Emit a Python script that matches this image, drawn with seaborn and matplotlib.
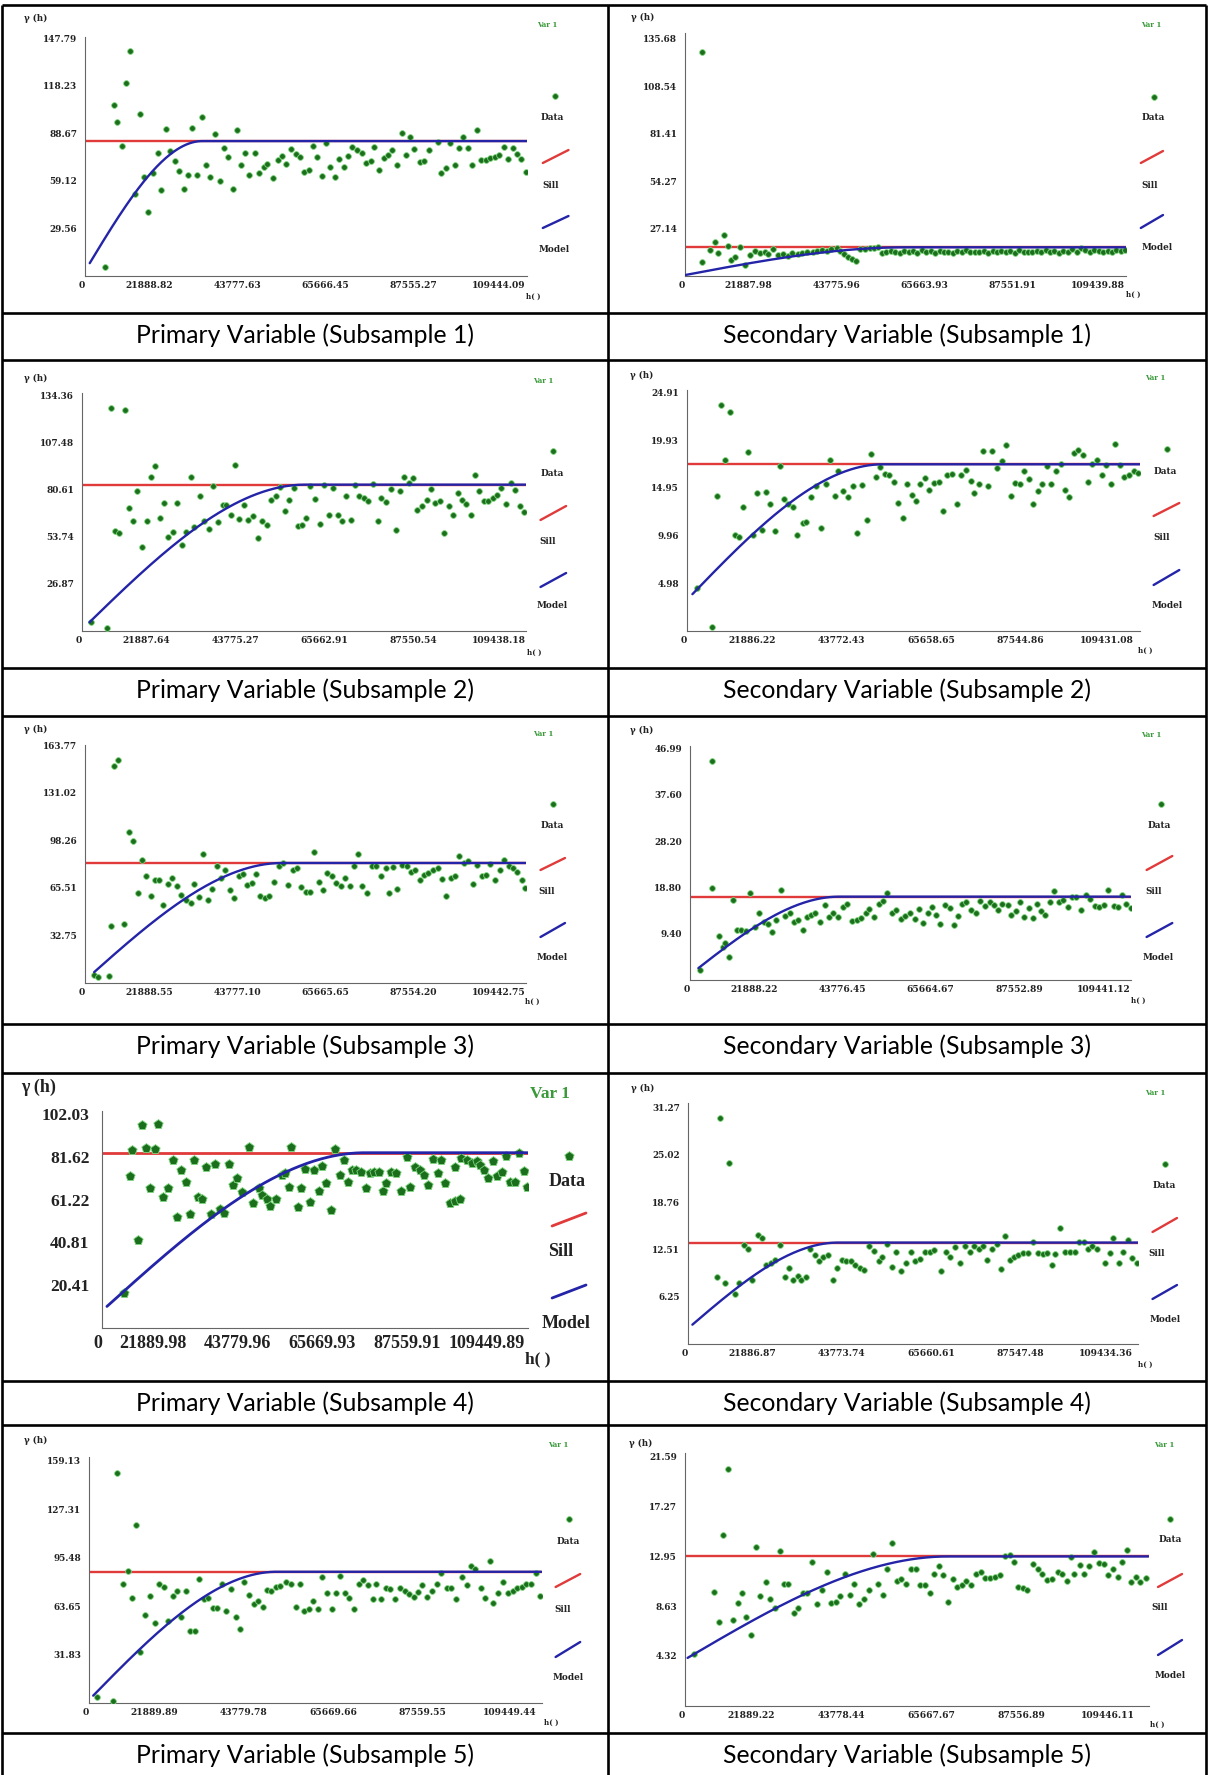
import numpy as np
import pandas as pd
import matplotlib
matplotlib.use("Agg")
import matplotlib.pyplot as plt
import seaborn as sns

sns.set_style("white")
plt.rcParams['font.family'] = ['Liberation Serif', 'DejaVu Serif']

W, H = 1208, 1775

# ---- data (lags in thousands) ----
prim1_lag = [5.0, 7.2, 8.1, 9.2, 10.3, 11.3, 12.4, 13.6, 14.7, 15.8,
             17.0, 18.1, 19.0, 20.2, 21.2, 22.4, 23.5, 24.7, 25.6, 26.7,
             27.9, 29.0, 30.2, 31.2, 32.4, 33.6, 34.5, 35.5, 36.9, 37.7,
             38.9, 39.8, 40.9, 42.3, 43.2, 44.5, 45.4, 46.8, 47.9, 48.9,
             50.1, 51.2, 52.4, 53.5, 54.6, 55.6, 56.7, 57.8, 58.9, 60.0,
             61.0, 62.1, 63.2, 64.3, 65.5, 66.5, 67.7, 68.8, 70.0, 71.1,
             72.0, 73.1, 74.3, 75.3, 76.4, 77.5, 78.8, 79.8, 80.9, 81.9,
             83.2, 84.2, 85.6, 87.7, 88.5, 89.8, 90.7, 92.0, 93.1, 94.1,
             95.3, 96.3, 97.4, 98.6, 99.8, 100.8, 101.9, 103.0, 104.1, 105.1,
             106.4, 107.5, 108.5, 109.8]
prim1_gam = [5.4, 106.3, 96.0, 81.0, 119.8, 139.9, 51.0, 100.7, 61.8, 40.0,
             64.3, 76.3, 53.5, 91.2, 77.9, 71.7, 65.5, 54.1, 62.8, 91.8,
             62.8, 98.7, 69.0, 61.4, 88.1, 59.3, 79.4, 74.2, 54.1, 90.8,
             69.0, 76.3, 62.8, 76.3, 64.3, 67.6, 69.7, 60.8, 72.1, 74.8,
             69.7, 79.0, 75.9, 74.2, 64.9, 65.9, 80.8, 73.8, 62.2, 82.5,
             68.0, 61.8, 72.6, 68.0, 74.6, 80.4, 78.4, 76.3, 70.1, 71.7,
             80.4, 65.9, 73.2, 75.3, 78.4, 69.0, 88.7, 75.3, 86.7, 78.8,
             71.1, 71.7, 78.4, 83.5, 63.9, 67.0, 82.5, 69.0, 79.4, 86.7,
             79.4, 69.0, 90.8, 72.1, 72.1, 73.2, 73.8, 75.3, 80.4, 72.6,
             79.4, 75.9, 72.6, 64.5]

sec1_lag = [4.4, 4.4, 6.3, 7.5, 8.4, 9.7, 10.7, 11.6, 12.6, 13.8,
            15.0, 16.2, 17.4, 18.7, 19.9, 20.8, 22.0, 23.2, 24.5, 25.7,
            26.8, 28.1, 29.2, 30.5, 31.8, 32.9, 34.1, 35.3, 36.5, 37.8,
            38.7, 39.7, 40.7, 41.6, 42.6, 43.6, 44.8, 46.0, 47.2, 48.1,
            49.1, 50.1, 51.3,
            52.4, 53.5, 54.6, 55.7, 56.8, 57.9, 59.0, 60.1, 61.2, 62.3,
            63.4, 64.5, 65.6, 66.7, 67.8, 68.9, 70.0, 71.1, 72.2, 73.3,
            74.4, 75.5, 76.6, 77.7, 78.8, 79.9, 81.0, 82.1, 83.2, 84.3,
            85.4, 86.5, 87.6, 88.7, 89.8, 90.9, 92.0, 93.1, 94.2, 95.3,
            96.4, 97.5, 98.6, 99.7, 100.8, 101.9, 103.0, 104.1, 105.2, 106.3,
            107.4, 108.5, 109.6]
sec1_gam = [128.2, 7.8, 14.9, 19.6, 13.0, 23.4, 17.1, 9.1, 11.0, 16.8,
            6.3, 12.0, 14.5, 13.0, 13.9, 12.6, 15.2, 12.0, 12.6, 11.4,
            13.0, 12.4, 13.0, 13.9, 13.9, 14.5, 14.9, 14.5, 15.2, 15.8,
            14.5, 12.6, 10.7, 9.5, 8.8, 15.2, 15.2, 15.8, 15.8, 16.4,
            13.0, 13.9, 14.5,
            14.0, 13.3, 14.4, 13.6, 14.2, 13.0, 14.6, 13.8, 14.1, 13.4,
            14.5, 13.7, 14.0, 13.2, 14.3, 13.9, 14.6, 13.5, 14.0, 13.8,
            14.4, 13.3, 14.1, 13.9, 14.5, 13.6, 14.2, 13.4, 14.7, 13.8,
            14.0, 13.5, 14.3, 13.7, 14.6, 13.9, 14.1, 13.3, 14.4, 13.8,
            15.2, 14.0, 16.0, 14.6, 13.9, 15.1, 14.2, 13.8, 14.5, 14.0,
            15.0, 14.3, 14.8]

prim2_lag = [2.4, 6.2, 7.2, 8.2, 9.1, 10.6, 11.7, 12.7, 13.6, 14.9,
             16.0, 17.1, 18.2, 19.4, 20.4, 21.4, 22.5, 23.5, 24.7, 25.7,
             26.9, 27.8, 29.1, 30.2, 31.4, 32.4, 33.6, 34.8, 35.7, 36.8,
             37.8, 38.9, 40.0, 41.0, 42.2, 43.4, 44.4, 45.7, 46.8, 48.0,
             49.0, 50.1, 51.1, 52.3, 53.4, 54.3, 55.4, 56.4, 57.6, 58.7,
             59.7, 61.0, 62.0, 63.1, 64.1, 65.1, 66.4, 67.4, 68.4, 69.6,
             70.7, 71.8, 73.0, 73.9, 75.1, 76.2, 77.4, 78.4, 79.5, 80.6,
             81.8, 82.8, 84.0, 85.1, 86.1, 87.2, 88.3, 89.4, 90.5, 91.6,
             92.7, 93.8, 94.8, 96.0, 97.0, 98.1, 99.3, 100.3, 101.4, 102.3,
             103.5, 104.6, 105.8, 106.8, 108.0, 109.0]
prim2_gam = [4.8, 1.5, 127.3, 56.8, 55.8, 126.0, 70.1, 62.9, 79.7, 47.8,
             62.9, 87.9, 94.0, 64.4, 73.0, 53.6, 56.4, 73.0, 49.2, 56.4,
             87.9, 59.3, 76.8, 62.9, 58.1, 82.5, 61.9, 72.0, 72.0, 66.3,
             94.5, 63.9, 72.0, 63.5, 65.4, 53.0, 62.9, 60.6, 74.9, 76.8,
             82.0, 68.2, 74.9, 81.6, 60.0, 60.6, 64.4, 82.5, 75.5, 61.0,
             83.5, 66.3, 81.6, 66.3, 62.9, 76.8, 63.5, 83.5, 76.8, 75.9,
             74.3, 83.9, 62.9, 75.9, 73.6, 81.2, 57.8, 79.7, 87.9, 84.4,
             87.3, 69.2, 71.1, 74.9, 81.2, 73.0, 74.0, 55.8, 71.1, 66.3,
             78.7, 74.9, 72.4, 66.3, 88.8, 79.7, 74.0, 74.3, 75.9, 77.8,
             81.6, 72.4, 84.4, 80.6, 71.1, 67.9]

sec2_lag = [2.6, 6.2, 7.3, 8.4, 9.3, 10.7, 11.9, 12.9, 13.8, 15.1,
            16.2, 17.3, 18.4, 19.3, 20.5, 21.7, 22.8, 23.8, 24.9, 26.1,
            27.1, 28.4, 29.3, 30.5, 31.6, 32.8, 34.0, 35.0, 36.2, 37.1,
            38.3, 39.5, 40.6, 41.7, 42.8, 44.0, 45.0, 46.2, 47.3, 48.6,
            49.5, 50.6, 51.7, 52.8, 53.9, 55.0, 56.2, 57.1, 58.3, 59.4,
            60.6, 61.7, 62.6, 63.8, 65.0, 66.1, 67.1, 68.4, 69.5, 70.4,
            71.6, 72.6, 73.8, 74.8, 76.0, 77.1, 78.2, 79.4, 80.4, 81.5,
            82.5, 83.8, 84.7, 85.9, 87.0, 88.1, 89.2, 90.3, 91.6, 92.5,
            93.6, 94.7, 95.8, 96.9, 98.1, 99.2, 100.4, 101.6, 102.6, 103.8,
            104.7, 106.0, 107.1, 108.2, 109.5, 110.4]
sec2_gam = [4.5, 0.35, 14.1, 23.6, 17.9, 22.9, 10.0, 9.8, 12.9, 18.7,
            10.0, 14.4, 10.5, 14.5, 13.3, 10.4, 17.2, 13.8, 13.2, 12.9,
            10.0, 11.3, 11.4, 14.0, 15.1, 10.7, 15.3, 17.9, 14.1, 16.7,
            14.6, 14.0, 15.1, 10.2, 15.2, 11.6, 18.5, 16.1, 17.1, 16.4,
            16.3, 15.5, 13.4, 11.8, 15.3, 14.2, 13.6, 15.3, 16.0, 14.7,
            15.4, 15.5, 12.5, 16.3, 16.4, 13.3, 16.3, 16.8, 15.7, 14.4,
            15.3, 18.8, 15.1, 18.8, 17.0, 17.7, 19.4, 14.1, 15.4, 15.3,
            16.7, 15.9, 13.2, 14.6, 15.3, 17.2, 15.3, 16.7, 17.4, 14.7,
            14.0, 18.6, 18.9, 18.4, 15.6, 17.4, 17.9, 16.3, 17.3, 15.3,
            19.5, 17.3, 16.1, 16.3, 16.7, 16.5]

prim3_lag = [2.3, 3.3, 6.0, 6.4, 7.3, 8.3, 9.8, 11.0, 12.0, 13.1,
             14.2, 15.3, 16.3, 17.3, 18.4, 19.5, 20.7, 21.6, 22.9, 23.8,
             25.1, 26.3, 27.2, 28.4, 29.3, 30.5, 31.6, 32.7, 33.7, 34.8,
             36.1, 37.1, 38.2, 39.2, 40.3, 41.4, 42.4, 43.6, 44.8, 45.7,
             46.9, 48.1, 49.2, 50.4, 51.6, 52.7, 53.8, 54.9, 55.9, 57.0,
             58.1, 59.2, 60.2, 61.4, 62.5, 63.5, 64.7, 65.8, 66.8, 67.8,
             68.9, 70.1, 71.2, 72.4, 73.6, 74.7, 75.5, 76.6, 77.6, 78.7,
             80.0, 81.0, 82.0, 83.2, 84.3, 85.3, 86.5, 87.6, 88.7, 89.7,
             90.9, 91.9, 93.0, 94.2, 95.2, 96.3, 97.5, 98.7, 99.6, 100.7,
             101.9, 103.0, 104.1, 105.3, 106.3, 107.3, 108.5, 109.4]
prim3_gam = [6.0, 4.4, 4.8, 39.2, 149.5, 153.7, 41.0, 103.7, 97.6, 62.1,
             85.0, 74.0, 59.8, 70.8, 70.8, 54.0, 68.5, 72.4, 67.1, 60.9,
             57.5, 55.2, 68.5, 59.3, 89.1, 57.5, 64.8, 80.8, 72.4, 78.1,
             64.3, 58.6, 73.5, 75.3, 67.8, 68.9, 75.3, 60.2, 58.6, 60.2,
             69.4, 80.8, 82.7, 67.8, 78.1, 79.2, 66.2, 62.5, 62.5, 90.0,
             69.4, 64.3, 75.8, 73.5, 68.9, 66.6, 72.4, 66.6, 80.4, 89.1,
             66.6, 62.1, 80.8, 80.8, 74.0, 79.2, 62.1, 79.9, 64.8, 81.5,
             80.4, 76.3, 78.1, 70.8, 74.7, 75.8, 78.1, 79.2, 71.7, 59.8,
             72.4, 73.5, 87.2, 82.7, 83.8, 68.5, 81.5, 74.0, 74.7, 82.2,
             71.2, 78.1, 85.0, 80.4, 79.2, 76.3, 71.2, 65.5]

sec3_lag = [2.6, 5.5, 5.5, 7.1, 8.1, 8.7, 9.6, 10.6, 11.8, 12.7,
            13.9, 14.9, 16.1, 17.2, 18.4, 19.3, 20.4, 21.4, 22.6, 23.6,
            24.8, 25.8, 26.9, 28.0, 29.1, 30.1, 31.0, 32.3, 33.5, 34.4,
            35.6, 36.8, 38.0, 38.9, 40.2, 41.4, 42.4, 43.6, 44.5, 45.7,
            46.8, 47.9, 48.9, 50.1, 51.1, 52.3, 53.4, 54.7, 55.8, 56.9,
            57.8, 59.0, 60.0, 61.1, 62.1, 63.3, 64.6, 65.6, 66.5, 67.5,
            68.6, 69.8, 71.0, 71.9, 73.2, 74.4, 75.4, 76.5, 77.5, 78.8,
            79.7, 80.9, 81.9, 82.9, 84.1, 85.0, 86.2, 87.1, 88.2, 89.2,
            90.3, 91.5, 92.5, 93.7, 94.7, 95.8, 97.1, 98.2, 99.3, 100.5,
            101.6, 102.8, 103.8, 105.1, 106.2, 107.2, 108.2, 109.3]
sec3_gam = [2.0, 44.5, 18.6, 8.9, 6.7, 7.4, 4.6, 16.3, 10.2, 10.2,
            9.9, 17.7, 10.8, 13.5, 11.8, 11.3, 9.7, 12.1, 18.3, 12.9,
            13.6, 11.8, 12.1, 10.1, 12.7, 13.1, 13.6, 11.8, 15.2, 12.7,
            13.6, 12.8, 14.8, 15.5, 12.0, 12.1, 12.5, 13.5, 14.3, 12.8,
            15.5, 16.1, 17.6, 13.5, 14.2, 12.3, 12.9, 13.5, 12.3, 14.3,
            11.6, 13.5, 14.8, 13.1, 11.3, 15.2, 14.5, 11.1, 12.9, 15.5,
            15.9, 14.2, 13.6, 16.1, 15.0, 15.9, 15.2, 14.2, 15.4, 15.2,
            13.1, 14.0, 15.9, 12.8, 14.5, 12.5, 15.5, 14.0, 13.1, 15.9,
            18.1, 15.9, 16.2, 14.8, 16.8, 16.9, 14.2, 17.2, 16.5, 15.0,
            14.8, 15.2, 18.3, 15.0, 14.8, 17.2, 15.5, 14.5]

prim4_lag = [5.8, 7.3, 7.8, 9.4, 10.4, 11.4, 12.4, 13.7, 14.4, 15.9,
             17.1, 18.4, 19.4, 20.4, 21.7, 22.8, 23.9, 24.9, 25.9, 27.0,
             28.3, 29.3, 30.6, 31.6, 32.8, 33.8, 35.0, 36.2, 38.0, 39.2,
             40.5, 41.5, 42.6, 43.6, 44.9, 46.6, 47.4, 48.3, 49.0, 50.6,
             51.4, 52.6, 53.8, 54.9, 56.1, 57.0, 57.9, 59.2, 60.2, 61.7,
             62.7, 63.7, 64.7, 65.7, 67.0, 68.2, 69.4, 70.4, 71.7, 72.8,
             73.5, 74.7, 76.0, 77.3, 78.8, 79.8, 81.1, 82.3, 83.3, 84.3,
             85.5, 86.8, 87.8, 88.8, 90.1, 91.3, 91.3, 92.5, 92.9, 94.4,
             95.6, 96.9, 97.9, 98.9, 99.9, 101.2, 102.2, 103.4, 104.4, 105.6,
             106.9, 107.9, 109.2, 109.9]
prim4_gam = [16.7, 72.5, 85.0, 41.9, 96.9, 85.8, 66.6, 85.3, 97.4, 62.3,
             66.6, 80.2, 53.1, 75.4, 69.8, 54.4, 80.2, 62.6, 61.8, 76.7,
             54.4, 78.3, 56.6, 55.0, 78.1, 68.2, 71.4, 65.0, 86.2, 59.8,
             66.6, 63.4, 61.8, 58.2, 61.8, 73.0, 73.8, 67.4, 86.2, 57.9,
             66.6, 75.7, 60.3, 75.4, 65.5, 77.3, 69.0, 56.3, 85.3, 73.0,
             80.2, 69.8, 75.4, 75.4, 74.6, 66.6, 73.8, 74.6, 74.6, 65.5,
             69.0, 74.6, 74.1, 65.5, 81.5, 67.1, 77.0, 75.4, 73.0, 68.2,
             80.5, 73.8, 80.2, 69.3, 59.8, 60.7, 77.0, 61.4, 81.0, 80.2,
             78.9, 79.9, 77.8, 75.4, 71.4, 79.9, 72.5, 74.6, 82.1, 69.8,
             69.8, 83.7, 75.1, 67.4]

sec4_lag = [7.3, 7.9, 9.2, 10.3, 11.6, 12.7, 13.9, 14.9, 15.9, 17.2,
            18.3, 19.4, 20.6, 21.6, 22.8, 24.0, 25.0, 25.9, 27.2, 28.0,
            29.0, 30.2, 31.4, 32.4, 33.3, 34.4, 35.7, 36.8, 37.9, 39.0,
            40.2, 41.2, 42.4, 43.3, 44.7, 45.9, 47.0, 47.9, 49.0, 50.3,
            51.3, 52.4, 53.6, 54.8, 56.0, 57.2, 58.3, 59.5, 60.6, 62.4,
            63.4, 64.6, 65.8, 66.9, 68.2, 69.3, 70.4, 71.5, 72.7, 73.7,
            74.9, 76.1, 77.1, 78.0, 79.2, 80.1, 81.3, 82.5, 83.7, 84.9,
            86.0, 87.3, 88.2, 89.5, 90.4, 91.6, 92.7, 94.0, 95.2, 96.2,
            97.3, 98.5, 99.4, 100.7, 102.6, 103.7, 104.5, 105.9, 106.9, 108.1,
            109.3, 110.5]
sec4_gam = [8.8, 29.8, 8.0, 23.9, 6.6, 8.0, 13.1, 12.6, 8.4, 14.4,
            14.0, 10.4, 10.7, 11.1, 13.1, 8.9, 10.1, 8.4, 9.0, 8.5,
            8.8, 12.6, 11.8, 10.9, 11.5, 11.8, 8.5, 10.1, 11.1, 11.0,
            10.9, 10.4, 10.1, 9.8, 12.9, 12.3, 11.0, 11.5, 13.2, 10.2,
            12.2, 9.6, 10.7, 12.1, 11.0, 11.2, 12.2, 12.2, 12.4, 9.6,
            12.2, 11.5, 12.8, 10.7, 12.9, 12.2, 12.9, 12.5, 12.9, 11.1,
            12.6, 13.2, 9.9, 14.3, 11.1, 11.5, 11.8, 12.0, 12.0, 13.5,
            12.0, 11.9, 12.0, 10.4, 11.9, 15.3, 12.1, 12.1, 12.1, 13.5,
            13.5, 12.6, 12.9, 12.6, 10.7, 12.0, 14.0, 10.7, 12.2, 13.7,
            11.3, 10.7]

prim5_lag = [2.1, 5.9, 7.0, 8.3, 9.5, 10.5, 11.6, 12.6, 13.7, 14.9,
             16.1, 17.3, 18.3, 19.4, 20.7, 21.6, 22.6, 23.7, 24.9, 25.9,
             27.1, 28.3, 29.2, 30.4, 31.4, 32.6, 33.7, 34.9, 36.1, 37.1,
             38.1, 39.2, 40.4, 41.4, 42.6, 43.7, 44.6, 45.9, 46.8, 48.2,
             49.5, 50.6, 51.6, 52.7, 54.0, 54.9, 56.2, 57.1, 58.3, 59.4,
             60.4, 61.6, 62.7, 63.7, 64.9, 66.1, 67.1, 68.3, 69.5, 70.4,
             71.6, 72.7, 73.8, 74.9, 76.1, 77.3, 78.3, 79.5, 80.6, 81.6,
             82.7, 84.0, 85.1, 86.3, 87.6, 88.7, 89.9, 91.4, 92.5, 93.5,
             94.6, 95.9, 97.0, 98.1, 99.0, 100.2, 101.3, 102.5, 103.7, 104.7,
             105.9, 107.0, 108.2, 109.5, 110.4]
prim5_gam = [4.3, 1.6, 150.8, 78.6, 86.5, 69.4, 117.1, 33.4, 58.1, 70.5,
             53.0, 78.6, 76.0, 54.1, 70.5, 73.4, 56.3, 73.4, 47.6, 47.6,
             81.5, 68.3, 69.0, 62.4, 62.4, 78.6, 60.3, 74.9, 56.8, 48.7,
             79.9, 71.1, 65.0, 67.2, 63.3, 74.2, 73.8, 76.4, 77.1, 79.9,
             78.6, 63.3, 78.2, 60.3, 61.8, 67.2, 61.8, 82.6, 72.1, 61.8,
             72.1, 83.7, 72.1, 69.4, 61.8, 78.2, 80.8, 77.8, 68.3, 78.2,
             68.3, 75.6, 74.9, 68.3, 75.6, 73.4, 71.6, 69.9, 72.7, 77.8,
             69.9, 73.8, 78.6, 85.2, 75.6, 75.6, 68.3, 82.6, 77.8, 90.2,
             88.0, 75.6, 69.4, 93.1, 65.5, 72.1, 79.3, 72.1, 73.8, 75.6,
             76.4, 78.2, 78.6, 85.8, 70.5]

sec5_lag = [2.2, 7.1, 8.3, 9.3, 10.5, 11.7, 12.9, 14.0, 15.0, 16.2,
            17.4, 18.4, 19.7, 20.7, 22.0, 23.1, 24.1, 25.2, 26.5, 27.6,
            28.8, 29.8, 30.9, 32.1, 33.3, 34.6, 35.5, 36.7, 37.8, 39.0,
            40.2, 41.2, 42.4, 43.5, 44.7, 45.8, 47.0, 48.1, 49.2, 50.5,
            51.6, 52.6, 53.8, 54.9, 56.2, 57.2, 58.4, 59.5, 60.6, 61.7,
            62.8, 64.1, 65.2, 66.2, 67.3, 68.4, 69.5, 70.7, 71.9, 73.0,
            74.3, 75.5, 76.6, 77.8, 79.0, 80.0, 81.1, 82.2, 83.3, 84.7,
            85.9, 86.9, 88.1, 89.3, 90.7, 91.7, 92.8, 93.8, 94.7, 96.0,
            97.1, 98.3, 99.5, 100.6, 101.9, 102.8, 104.1, 105.2, 106.3, 107.5,
            108.5, 109.7, 110.7, 112.0]
sec5_gam = [4.5, 9.9, 7.3, 14.8, 20.5, 7.4, 8.9, 9.8, 7.7, 6.1,
            13.8, 9.5, 10.7, 9.3, 8.5, 13.4, 10.6, 10.6, 8.0, 8.5,
            9.8, 9.8, 12.5, 8.8, 10.0, 11.6, 8.9, 9.0, 9.5, 11.4,
            9.6, 10.6, 8.8, 9.3, 10.0, 13.2, 10.6, 9.6, 11.9, 14.1,
            10.8, 11.0, 10.6, 11.9, 11.9, 10.5, 10.5, 9.8, 11.4, 12.1,
            11.3, 9.0, 11.0, 10.3, 10.5, 10.8, 10.5, 11.4, 11.6, 11.1,
            11.1, 11.2, 11.3, 13.0, 13.1, 12.5, 10.3, 10.2, 10.0, 12.3,
            11.9, 11.4, 10.9, 11.0, 11.6, 11.4, 10.8, 12.9, 11.4, 12.2,
            11.4, 12.1, 13.3, 12.4, 12.3, 11.3, 11.9, 11.2, 12.5, 13.5,
            10.7, 11.2, 10.7, 11.1]

# tick labels as printed
x_ticks = [
    ['21888.82', '43777.63', '65666.45', '87555.27', '109444.09'],
    ['21887.98', '43775.96', '65663.93', '87551.91', '109439.88'],
    ['21887.64', '43775.27', '65662.91', '87550.54', '109438.18'],
    ['21886.22', '43772.43', '65658.65', '87544.86', '109431.08'],
    ['21888.55', '43777.10', '65665.65', '87554.20', '109442.75'],
    ['21888.22', '43776.45', '65664.67', '87552.89', '109441.12'],
    ['21889.98', '43779.96', '65669.93', '87559.91', '109449.89'],
    ['21886.87', '43773.74', '65660.61', '87547.48', '109434.36'],
    ['21889.89', '43779.78', '65669.66', '87559.55', '109449.44'],
    ['21889.22', '43778.44', '65667.67', '87556.89', '109446.11'],
]
y_ticks = [
    ['29.56', '59.12', '88.67', '118.23', '147.79'],
    ['27.14', '54.27', '81.41', '108.54', '135.68'],
    ['26.87', '53.74', '80.61', '107.48', '134.36'],
    ['4.98', '9.96', '14.95', '19.93', '24.91'],
    ['32.75', '65.51', '98.26', '131.02', '163.77'],
    ['9.40', '18.80', '28.20', '37.60', '46.99'],
    ['20.41', '40.81', '61.22', '81.62', '102.03'],
    ['6.25', '12.51', '18.76', '25.02', '31.27'],
    ['31.83', '63.65', '95.48', '127.31', '159.13'],
    ['4.32', '8.63', '12.95', '17.27', '21.59'],
]

# fitted spherical model: nugget, sill, range (thousands)
nugget = [3.0, 0.5, 0.5, 3.2, 2.0, 1.0, 8.0, 2.0, 2.0, 4.0]
sill = [83.9, 16.4, 83.5, 17.4, 82.7, 16.9, 83.7, 13.4, 86.3, 12.95]
model_range = [29.2, 55.0, 55.0, 48.0, 49.0, 37.0, 68.0, 37.0, 46.0, 64.0]
model_start = [1.2, 0.3, 1.9, 1.4, 2.3, 2.1, 1.3, 1.2, 1.1, 0.7]

captions = ['Primary Variable (Subsample 1)', 'Secondary Variable (Subsample 1)',
            'Primary Variable (Subsample 2)', 'Secondary Variable (Subsample 2)',
            'Primary Variable (Subsample 3)', 'Secondary Variable (Subsample 3)',
            'Primary Variable (Subsample 4)', 'Secondary Variable (Subsample 4)',
            'Primary Variable (Subsample 5)', 'Secondary Variable (Subsample 5)']

lags = [prim1_lag, sec1_lag, prim2_lag, sec2_lag, prim3_lag,
        sec3_lag, prim4_lag, sec4_lag, prim5_lag, sec5_lag]
gams = [prim1_gam, sec1_gam, prim2_gam, sec2_gam, prim3_gam,
        sec3_gam, prim4_gam, sec4_gam, prim5_gam, sec5_gam]

# ---- layout in pixels (left, top, right, bottom of the axes), axis limits, legend spots ----
layout = [
    dict(ax=(84.9, 36.7, 527.3, 276), xmax=110.0, ymax=148.8, ylab=(36, 18), var=(547, 25),
         dm=(554.5, 96), dt=(552.1, 117), ss=(542.8, 163, 568.5, 150), st=(551, 186),
         ms=(542.8, 228, 568.5, 216), mt=(554.5, 250), hl=(533.5, 297)),
    dict(ax=(684.7, 33.3, 1125.6, 276), xmax=109.7, ymax=138.7, ylab=(643, 17), var=(1151, 25),
         dm=(1153.6, 97), dt=(1153.6, 118), ss=(1140.8, 163, 1163, 151), st=(1150.1, 185),
         ms=(1140.8, 228, 1163, 215), mt=(1157.1, 248), hl=(1133.8, 295)),
    dict(ax=(81.7, 393, 526.1, 630.7), xmax=109.6, ymax=135.9, ylab=(36, 378), var=(543, 381),
         dm=(553.3, 451), dt=(552.1, 473), ss=(540.5, 520, 566.1, 506), st=(547.5, 541),
         ms=(540.5, 587, 566.1, 573), mt=(552.1, 606), hl=(534.6, 653)),
    dict(ax=(686.7, 389.7, 1140.0, 630.7), xmax=110.9, ymax=25.2, ylab=(642, 375), var=(1155, 378),
         dm=(1166.5, 449), dt=(1165.3, 471), ss=(1153.6, 516, 1179.3, 503), st=(1161.8, 538),
         ms=(1153.6, 585, 1179.3, 570), mt=(1167.6, 605), hl=(1145.5, 651)),
    dict(ax=(84.9, 744.7, 526.1, 983.3), xmax=109.6, ymax=164.0, ylab=(36, 729), var=(543, 734),
         dm=(553.3, 804), dt=(552.1, 826), ss=(540.5, 870, 565, 858), st=(546.3, 892),
         ms=(540.5, 937, 565, 923), mt=(552.1, 958), hl=(532.3, 1002)),
    dict(ax=(689.9, 746.3, 1131.1, 979.7), xmax=109.3, ymax=47.5, ylab=(642, 730), var=(1151, 735),
         dm=(1160.6, 804), dt=(1159.4, 826), ss=(1146.6, 870, 1172.3, 856), st=(1153.6, 892),
         ms=(1146.6, 937, 1172.3, 923), mt=(1158.3, 958), hl=(1138.5, 1001)),
    dict(ax=(101.9, 1110.7, 528.4, 1327.7), xmax=110.3, ymax=103.8, ylab=(38.5, 1087), var=(549.8, 1094),
         dm=(568.5, 1156), dt=(567.3, 1181), ss=(552.1, 1226, 586, 1213), st=(560.3, 1252),
         ms=(552.1, 1298, 586, 1285), mt=(566.1, 1324), hl=(538.1, 1359), big=True),
    dict(ax=(687.5, 1103.3, 1138.1, 1344), xmax=110.7, ymax=31.8, ylab=(643, 1088), var=(1155, 1093),
         dm=(1165.3, 1164), dt=(1164.1, 1186), ss=(1152.5, 1232, 1177, 1218), st=(1157.1, 1253),
         ms=(1152.5, 1299, 1177, 1285), mt=(1165.3, 1319), hl=(1145.5, 1365)),
    dict(ax=(88.7, 1457.3, 541.6, 1703.3), xmax=110.8, ymax=161.4, ylab=(36, 1440), var=(558, 1445),
         dm=(568.5, 1519), dt=(568.5, 1541), ss=(555.6, 1587, 580.2, 1574), st=(562.6, 1609),
         ms=(555.6, 1657, 580.2, 1642), mt=(568.5, 1677), hl=(551, 1723)),
    dict(ax=(684.7, 1453.3, 1148.8, 1705.7), xmax=112.8, ymax=21.9, ylab=(641, 1443), var=(1164, 1445),
         dm=(1170, 1519), dt=(1170, 1539), ss=(1158, 1587, 1182, 1574), st=(1160, 1607),
         ms=(1158, 1655, 1182, 1640), mt=(1170, 1675), hl=(1157.1, 1725)),
]

GREEN = '#1b6e1b'
HALO = '#7fd67f'
RED = '#e03a3a'
BLUE = '#2424a8'
TXT = '#222222'


def spherical(h, c0, c, a):
    r = np.minimum(h / a, 1.0)
    return c0 + (c - c0) * (1.5 * r - 0.5 * r ** 3)


fig = plt.figure(figsize=(W / 100, H / 100), dpi=100)

# overlay in pixel coordinates for the table grid and the free text
ov = fig.add_axes([0, 0, 1, 1])
ov.set_xlim(0, W)
ov.set_ylim(H, 0)
ov.axis('off')

row_tops = [5, 360, 716, 1073, 1425]
cap_tops = [313, 668, 1024, 1381, 1733]
for y in row_tops + cap_tops:
    ov.plot([2, 1206], [y, y], color='black', lw=1.9, solid_capstyle='butt')
for x in [2, 608, 1206]:
    ov.plot([x, x], [5, H + 5], color='black', lw=1.9, solid_capstyle='butt')

for i in range(10):
    L = layout[i]
    big = L.get('big', False)
    fam = ['Liberation Serif'] if big else ['DejaVu Serif']
    left, top, right, bottom = L['ax']
    ax = fig.add_axes([left / W, 1 - bottom / H, (right - left) / W, (bottom - top) / H])
    ax.set_facecolor('none')

    df = pd.DataFrame({'h': np.array(lags[i]) * 1000, 'g': gams[i]})
    msize = 50 if big else 17
    mk = 'p' if big else 'o'
    sns.scatterplot(data=df, x='h', y='g', ax=ax, color=GREEN, s=msize, marker=mk,
                    edgecolor=HALO, linewidth=0.6, zorder=3)

    xend = L['xmax'] * 1000
    lw = 2.0 if big else 1.7
    ax.plot([0, xend], [sill[i], sill[i]], color=RED, lw=lw, zorder=2)
    hh = np.linspace(model_start[i], L['xmax'] - 0.1, 300) * 1000
    gm = spherical(hh, nugget[i], sill[i], model_range[i] * 1000)
    sns.lineplot(x=hh, y=gm, ax=ax, color=BLUE, lw=lw, zorder=4, sort=False)

    ax.set_xlim(0, xend)
    ax.set_ylim(0, L['ymax'])
    xt = [0.0] + [float(v) for v in x_ticks[i]]
    ax.set_xticks(xt)
    ax.set_xticklabels(['0'] + x_ticks[i], ha='right', fontweight='bold',
                       fontsize=13 if big else 6.6, family=fam)
    ax.set_yticks([float(v) for v in y_ticks[i]])
    ax.set_yticklabels(y_ticks[i], fontweight='bold', fontsize=12.5 if big else 6.4, family=fam)
    ax.set_xlabel('')
    ax.set_ylabel('')
    ax.tick_params(axis='x', direction='in', length=2.5, width=0.6, color='#666666',
                   labelcolor=TXT, pad=5 if big else 3.5)
    ax.tick_params(axis='y', direction='in', length=2.5, width=0.6, color='#666666',
                   labelcolor=TXT, pad=9 if big else 5.5)
    for s in ['top', 'right']:
        ax.spines[s].set_visible(False)
    for s in ['left', 'bottom']:
        ax.spines[s].set_color('#666666')
        ax.spines[s].set_linewidth(0.8)

    fs_leg = 13 if big else 6.4
    ov.text(*L['ylab'], 'γ (h)', ha='center', va='center', fontsize=13 if big else 6.2,
            fontweight='bold', color=TXT, family=fam)
    ov.text(*L['var'], 'Var 1', ha='center', va='center', fontsize=12.5 if big else 5.0,
            fontweight='bold', color='#3a9a3a', family=fam)
    ov.scatter([L['dm'][0]], [L['dm'][1]], s=msize, marker=mk, color=GREEN,
               edgecolors=HALO, linewidths=0.6)
    ov.text(*L['dt'], 'Data', ha='center', va='center', fontsize=fs_leg, fontweight='bold',
            color=TXT, family=fam)
    x1, y1, x2, y2 = L['ss']
    ov.plot([x1, x2], [y1, y2], color=RED, lw=lw)
    ov.text(*L['st'], 'Sill', ha='center', va='center', fontsize=fs_leg, fontweight='bold',
            color=TXT, family=fam)
    x1, y1, x2, y2 = L['ms']
    ov.plot([x1, x2], [y1, y2], color=BLUE, lw=lw)
    ov.text(*L['mt'], 'Model', ha='center', va='center', fontsize=fs_leg, fontweight='bold',
            color=TXT, family=fam)
    ov.text(*L['hl'], 'h( )', ha='center', va='center', fontsize=12.5 if big else 5.2,
            fontweight='bold', color=TXT, family=fam)

    # caption cell
    cx = 305 if i % 2 == 0 else 907
    cy = cap_tops[i // 2] + 22
    ov.text(cx, cy, captions[i], ha='center', va='center', fontsize=17.8,
            family=['Lato', 'DejaVu Sans'], color='black')

fig.savefig('out.png', dpi=100)
